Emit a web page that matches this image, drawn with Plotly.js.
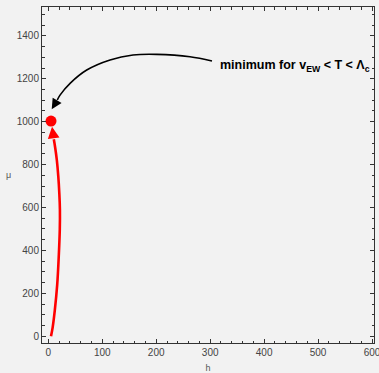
<!DOCTYPE html>
<html>
<head>
<meta charset="utf-8">
<script src="https://cdn.plot.ly/plotly-3.0.1.min.js"></script>
<style>
  html, body { margin: 0; padding: 0; background: #f2f2f2; }
  #plot { width: 379px; height: 373px; }
</style>
</head>
<body>
<div id="plot"></div>
<script>
// Flow of the minimum as T drops: (h, mu) samples along the red path
const flowH  = [5.0, 8.0, 12.0, 16.5, 19.5, 21.3, 21.5, 20.4, 18.5, 15.8, 12.7, 10.2];
const flowMu = [0, 40, 120, 240, 380, 500, 590, 666, 745, 821, 880, 918];
// Final segment of the red path, drawn as an arrow (tail -> tip)
const flowTail = [10.2, 918];
const flowTip  = [6.9, 977];

// Location of the minimum
const minH  = [5];
const minMu = [1003];

// Black callout path from the label to the minimum
const calloutH  = [303.4, 262.6, 200.9, 157.0, 114.4, 71.2, 40.8, 21.7, 16.7];
const calloutMu = [1283, 1303, 1314, 1311, 1288, 1241, 1180, 1124, 1101];
const calloutTail = [16.7, 1101];
const calloutTip  = [6.3, 1058];

const labelPos  = [314, 1262];
const labelText = '<b>minimum for v<sub>EW</sub> &lt; T &lt; Λ<sub>c</sub></b>';

const xTickVals = [0, 100, 200, 300, 400, 500, 600];
const yTickVals = [0, 200, 400, 600, 800, 1000, 1200, 1400];

const frameColor = '#333333';
const tickFont = { family: 'Liberation Sans, Arial, sans-serif', size: 10, color: '#444444' };

const traces = [
  {
    x: flowH, y: flowMu, mode: 'lines', type: 'scatter',
    line: { color: '#ff0000', width: 2.6, shape: 'spline', smoothing: 1 },
    hoverinfo: 'skip'
  },
  {
    x: calloutH, y: calloutMu, mode: 'lines', type: 'scatter',
    line: { color: '#000000', width: 1.6, shape: 'spline' },
    hoverinfo: 'skip'
  },
  {
    x: minH, y: minMu, mode: 'markers', type: 'scatter',
    marker: { color: '#ff0000', size: 11 },
    hoverinfo: 'skip'
  }
];

const axisCommon = {
  showgrid: false, zeroline: false,
  showline: true, linecolor: frameColor, linewidth: 1,
  mirror: 'ticks', ticks: 'inside', ticklen: 4, tickwidth: 1, tickcolor: frameColor,
  tickfont: tickFont, ticklabeloverflow: 'allow'
};

const layout = {
  width: 379, height: 373,
  margin: { l: 42, r: 5, t: 7, b: 30 },
  paper_bgcolor: '#f2f2f2', plot_bgcolor: '#f2f2f2',
  showlegend: false,
  xaxis: Object.assign({}, axisCommon, {
    range: [-11.7, 603.7], tickvals: xTickVals,
    minor: { dtick: 20, tick0: 0, ticks: 'inside', ticklen: 2.5, tickcolor: frameColor },
    title: { text: 'h', font: { family: 'Liberation Sans, Arial, sans-serif', size: 9, color: '#555555' }, standoff: 8 }
  }),
  yaxis: Object.assign({}, axisCommon, {
    range: [-31.7, 1534.7], tickvals: yTickVals,
    minor: { dtick: 50, tick0: 0, ticks: 'inside', ticklen: 2.5, tickcolor: frameColor }
  }),
  annotations: [
    {
      x: flowTip[0], y: flowTip[1], ax: flowTail[0], ay: flowTail[1],
      xref: 'x', yref: 'y', axref: 'x', ayref: 'y',
      text: '', showarrow: true, arrowhead: 2, arrowsize: 0.9, arrowwidth: 2.6,
      arrowcolor: '#ff0000', standoff: 0, startstandoff: 0
    },
    {
      x: calloutTip[0], y: calloutTip[1], ax: calloutTail[0], ay: calloutTail[1],
      xref: 'x', yref: 'y', axref: 'x', ayref: 'y',
      text: '', showarrow: true, arrowhead: 2, arrowsize: 1.3, arrowwidth: 1.6,
      arrowcolor: '#000000', standoff: 0, startstandoff: 0
    },
    {
      x: labelPos[0], y: labelPos[1], xref: 'x', yref: 'y',
      xanchor: 'left', yanchor: 'middle', showarrow: false,
      text: labelText,
      font: { family: 'Liberation Sans, Arial, sans-serif', size: 12.5, color: '#000000' }
    },
    {
      x: -0.102, y: 0.5, xref: 'paper', yref: 'paper', xanchor: 'center', yanchor: 'middle',
      showarrow: false, text: 'μ',
      font: { family: 'Liberation Sans, Arial, sans-serif', size: 9, color: '#555555' }
    }
  ]
};

Plotly.newPlot('plot', traces, layout, { staticPlot: true, displayModeBar: false });
</script>
</body>
</html>
